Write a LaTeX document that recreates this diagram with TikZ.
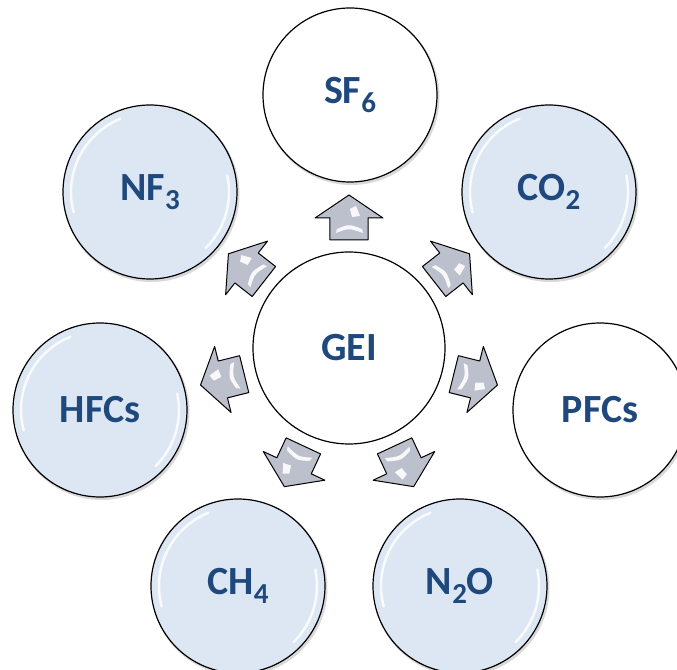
\documentclass[tikz,border=0pt]{standalone}
\usepackage{fontspec}
\setmainfont{Carlito}
\usetikzlibrary{positioning,calc}
\definecolor{geiblue}{RGB}{31,73,125}
\definecolor{bubble}{RGB}{221,231,243}
\definecolor{arrowgray}{RGB}{188,192,204}
\newcommand{\gsub}[1]{\raisebox{-0.22em}{\fontsize{29}{29}\selectfont #1}}

\begin{document}
\begin{tikzpicture}[x=1pt, y=1pt,
    gas/.style={circle, draw=black, line width=1.2pt, minimum size=174pt, inner sep=0pt,
        font=\fontsize{40}{40}\selectfont\bfseries, text=geiblue},
    gloss/.style={white, line width=2.5pt, opacity=.8, line cap=round},
    blockarrow/.style={fill=arrowgray, draw=black, line width=1pt, line join=round}]
    \clip (-349,-321) rectangle (328,348);

    % centre
    \node[gas, fill=white, minimum size=192pt] (gei) at (0,0) {GEI};

    % gases
    \foreach \g/\txt/\x/\y/\col in {sf6/SF\gsub{6}/1/253/white, nf3/NF\gsub{3}/-199/156/bubble,
        co2/CO\gsub{2}/200/156/bubble, hfcs/HFCs/-249/-62/bubble, pfcs/PFCs/251/-62/white,
        ch4/CH\gsub{4}/-111/-238/bubble, n2o/N\gsub{2}O/111/-238/bubble} {
        \fill[black, opacity=.15] (\x+1.5,\y-2) circle (88);
        \node[gas, fill=\col] (\g) at (\x,\y) {\txt};
    }
    \foreach \g in {nf3,co2,hfcs,ch4,n2o} {
        \draw[gloss] ($(\g)+(112:79)$) arc[start angle=112, end angle=195, radius=79];
        \draw[gloss] ($(\g)+(-45:79)$) arc[start angle=-45, end angle=12, radius=79];
    }

    % arrows
    \foreach \ang in {90,38,-14,-65,-115,-166,142} {
        \begin{scope}[rotate=\ang]
            \draw[blockarrow] (108,-19) -- (130,-19) -- (130,-34) -- (153,0) -- (130,34)
                -- (130,19) -- (108,19) -- cycle;
            \fill[white, opacity=.9] (115,-14) .. controls (120,0) .. (115,13) -- (119,12)
                .. controls (124,0) .. (119,-13) -- cycle;
            \fill[white, opacity=.9] (132,-11) -- (142,-7) -- (139,-1) -- (131,-3) -- cycle;
        \end{scope}
    }
\end{tikzpicture}
\end{document}
